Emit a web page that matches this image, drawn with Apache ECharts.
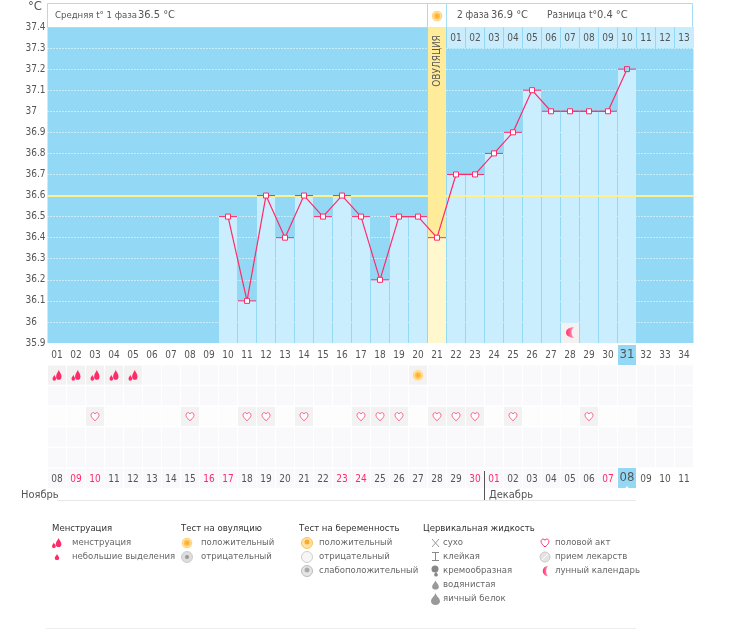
<!DOCTYPE html>
<html>
<head>
<meta charset="utf-8">
<style>
  html, body { margin: 0; padding: 0; background: #fff; }
  #chart { width: 731px; height: 629px; }
</style>
<script src="https://cdn.jsdelivr.net/npm/echarts@6/dist/echarts.min.js"></script>
</head>
<body>
<div id="chart"></div>
<script>
// cycle days, 01..34
const days = ['01','02','03','04','05','06','07','08','09','10','11','12','13','14','15','16','17',
  '18','19','20','21','22','23','24','25','26','27','28','29','30','31','32','33','34'];
// calendar date under each cycle day
const dates = ['08','09','10','11','12','13','14','15','16','17','18','19','20','21','22','23','24',
  '25','26','27','28','29','30','01','02','03','04','05','06','07','08','09','10','11'];
// positions in dates[] printed red (weekends)
const redDates = [1,2,8,9,15,16,22,23,29];
const temps = [null,null,null,null,null,null,null,null,null,36.5,36.1,36.6,36.4,36.6,36.5,36.6,36.5,
  36.2,36.5,36.5,36.4,36.7,36.7,36.8,36.9,37.1,37,37,37,37,37.2,null,null,null];
const coverLine = 36.6;
const ovulationDay = '21';
const todayDay = '31';
const phase2Days = ['22','23','24','25','26','27','28','29','30','31','32','33','34'];
const phase2Labels = ['01','02','03','04','05','06','07','08','09','10','11','12','13'];
const rows = ['r1','r2','r3','r4','r5','dates'];
const dropDays = ['01','02','03','04','05'];
const ovuTestDays = ['20'];
const heartDays = ['03','08','11','12','14','17','18','19','21','22','23','25','29'];
const moonDays = ['28'];

const TXT = '#555';
const PINK = '#ff2a68';
const BLUE = '#93d9f6';
const FONT = '"DejaVu Sans Condensed", "DejaVu Sans", sans-serif';

// drawn in 16x16 boxes
const DROP = 'M10.5 0C11 3 15 5 15 10A4.5 4.5 0 0 1 6 10C6 5 10 3 10.5 0ZM3 7C3.5 9 6 10.5 6 13A3 3 0 0 1 0 13C0 10.5 2.5 9 3 7Z';
const BIGDROP = 'M8 0C9 4 14 7 14 11A6 5 0 0 1 2 11C2 7 7 4 8 0Z';
const HEART = 'M8 15C2 10 1 7.5 1 5C1 2.5 3 1 5 1C6.5 1 7.5 2 8 3.2C8.5 2 9.5 1 11 1C13 1 15 2.5 15 5C15 7.5 14 10 8 15Z';
const MOON = 'M12 1A7 7 0 1 0 12 15A12 12 0 0 1 12 1Z';
echarts.graphic.registerShape('iconDrop', echarts.graphic.extendPath(DROP, {}));
echarts.graphic.registerShape('iconBigDrop', echarts.graphic.extendPath(BIGDROP, {}));
echarts.graphic.registerShape('iconHeart', echarts.graphic.extendPath(HEART, {}));
echarts.graphic.registerShape('iconMoon', echarts.graphic.extendPath(MOON, {}));

function sunColor() {
  return new echarts.graphic.RadialGradient(0.5, 0.5, 0.5, [
    { offset: 0, color: '#ffa51f' },
    { offset: 0.55, color: '#ffc65c' },
    { offset: 0.7, color: '#ffe6b0' },
    { offset: 0.85, color: '#ffd27a' },
    { offset: 1, color: '#ffeecb' }
  ]);
}
function moonColor() {
  return new echarts.graphic.LinearGradient(0, 0, 1, 0, [
    { offset: 0, color: '#ff2a68' },
    { offset: 1, color: '#ffa5c0' }
  ]);
}

const chart = echarts.init(document.getElementById('chart'), null, { renderer: 'canvas' });

// label cells; the highlighted one is a full 18x20 blue cell
function numStyle(h, color) {
  return { width: 18, height: h, lineHeight: h, align: 'center', color: color, fontSize: 10, fontFamily: FONT };
}
const hlStyle = { width: 18, height: 20, lineHeight: 20, align: 'center', color: TXT, fontSize: 13, fontFamily: FONT, backgroundColor: BLUE };

function text(x, y, str, size, color, weight) {
  return {
    type: 'text', x: x, y: y, silent: true,
    style: { text: str, fill: color || TXT, fontSize: size || 10, fontFamily: FONT, fontWeight: weight || 'normal', verticalAlign: 'middle' }
  };
}
function rect(x, y, w, h, fill, stroke) {
  return { type: 'rect', silent: true, shape: { x: x, y: y, width: w, height: h }, style: { fill: fill, stroke: stroke || null, lineWidth: 1 } };
}
// icons are 16 units wide; s is the px size
function icon(shape, x, y, s, fill, stroke) {
  const k = s / 16;
  return {
    type: shape, silent: true, x: x - s / 2, y: y - s / 2, scaleX: k, scaleY: k,
    style: { fill: fill, stroke: stroke || null, lineWidth: 1 / k }
  };
}
function disc(x, y, r, fill, stroke) {
  return { type: 'circle', silent: true, shape: { cx: x, cy: y, r: r }, style: { fill: fill, stroke: stroke || null, lineWidth: 1 } };
}

const headerGraphics = [
  rect(47.5, 3.5, 645, 24, '#fff', '#a5dff6'),
  rect(427.5, 3.5, 19, 24, '#fff', '#a5dff6'),
  disc(437, 16, 5.5, sunColor()),
  text(55, 16, 'Средняя t° 1 фаза', 9.5),
  text(138, 15.5, '36.5 °C', 11),
  text(457, 15.5, '2 фаза', 10),
  text(491, 15.5, '36.9 °C', 11),
  text(547, 15.5, 'Разница t°', 10),
  text(597, 15.5, '0.4 °C', 11),
  text(28, 7, '°C', 13),
  {
    type: 'text', x: 437, y: 61, rotation: Math.PI / 2, silent: true, z: 20,
    style: { text: 'ОВУЛЯЦИЯ', fill: TXT, fontSize: 10, fontFamily: FONT, align: 'center', verticalAlign: 'middle' }
  }
];

const footerGraphics = [
  text(21, 495, 'Ноябрь', 11),
  text(489, 495, 'Декабрь', 11),
  rect(484, 471, 1, 29, '#555'),
  rect(57, 500, 579, 1, '#e8e8e8'),
  rect(46, 628, 590, 1, '#eeeeee'),
  { type: 'polygon', silent: true, z: 20, shape: { points: [[624.5, 489], [629.5, 489], [627, 486]] }, style: { fill: '#fff' } }
];

const L = '#333', G = '#666', LS = 9.5;
const legendGraphics = [
  text(52, 529, 'Менструация', LS, L),
  icon('iconDrop', 57, 543, 10, PINK),
  text(72, 543, 'менструация', LS, G),
  icon('iconBigDrop', 57, 557, 6, PINK),
  text(72, 557, 'небольшие выделения', LS, G),

  text(181, 529, 'Тест на овуляцию', LS, L),
  disc(187, 543, 5.5, sunColor()),
  text(201, 543, 'положительный', LS, G),
  disc(187, 557, 5.5, '#ddd', '#ccc'),
  disc(187, 557, 2, '#999'),
  text(201, 557, 'отрицательный', LS, G),

  text(299, 529, 'Тест на беременность', LS, L),
  disc(307, 543, 5.5, '#ffe2a8', '#fbc160'),
  disc(307, 542, 2.5, '#ffa928'),
  text(319, 543, 'положительный', LS, G),
  disc(307, 557, 5.5, '#f6f6f6', '#cfcfcf'),
  text(319, 557, 'отрицательный', LS, G),
  disc(307, 571, 5.5, '#e6e6e6', '#bbb'),
  disc(307, 570, 2.5, '#aaa'),
  text(319, 571, 'слабоположительный', LS, G),

  text(423, 529, 'Цервикальная жидкость', LS, L),
  { type: 'line', silent: true, shape: { x1: 432, y1: 539, x2: 439, y2: 547 }, style: { stroke: '#999' } },
  { type: 'line', silent: true, shape: { x1: 439, y1: 539, x2: 432, y2: 547 }, style: { stroke: '#999' } },
  text(443, 543, 'сухо', LS, G),
  rect(432, 552, 7, 1, '#888'), rect(435, 552, 1, 8, '#888'), rect(432, 560, 7, 1, '#888'),
  text(443, 557, 'клейкая', LS, G),
  disc(435, 569, 3.5, '#888'),
  icon('iconBigDrop', 436, 574, 5, '#888'),
  text(443, 571, 'кремообразная', LS, G),
  icon('iconBigDrop', 435.5, 585, 9, '#999'),
  text(443, 585, 'водянистая', LS, G),
  icon('iconBigDrop', 435.5, 599, 12, '#999'),
  text(443, 599, 'яичный белок', LS, G),

  icon('iconHeart', 545, 543, 9, '#fff', PINK),
  text(555, 543, 'половой акт', LS, G),
  disc(545, 557, 5, '#e4e4e4', '#ccc'),
  { type: 'line', silent: true, shape: { x1: 542, y1: 560, x2: 548, y2: 554 }, style: { stroke: '#fff' } },
  text(555, 557, 'прием лекарств', LS, G),
  icon('iconMoon', 545, 571, 12, moonColor()),
  text(555, 571, 'лунный календарь', LS, G)
];

const option = {
  animation: false,
  backgroundColor: '#fff',
  grid: [
    { left: 47.5, top: 27, width: 646, height: 316, show: true, backgroundColor: BLUE, borderWidth: 0 },
    { left: 47.5, top: 365, width: 646, height: 124, show: false }
  ],
  xAxis: [
    {
      gridIndex: 0, type: 'category', data: days,
      axisLine: { show: false }, axisTick: { show: false }, splitLine: { show: false },
      axisLabel: {
        interval: 0, margin: 2, hideOverlap: false,
        formatter: v => (v === todayDay ? '{hl|' + v + '}' : '{n|' + v + '}'),
        rich: { n: numStyle(20, TXT), hl: hlStyle }
      }
    },
    {
      gridIndex: 1, type: 'category', data: days, z: 6,
      axisLine: { show: false }, axisTick: { show: false }, splitLine: { show: false },
      axisLabel: {
        interval: 0, inside: true, margin: 1, hideOverlap: false,
        formatter: (v, i) => {
          const d = dates[i];
          if (v === todayDay) return '{hl|' + d + '}';
          return redDates.includes(i) ? '{r|' + d + '}' : '{n|' + d + '}';
        },
        rich: { n: numStyle(17, TXT), r: numStyle(17, PINK), hl: hlStyle }
      }
    }
  ],
  yAxis: [
    {
      gridIndex: 0, type: 'value', min: 35.9, max: 37.4, interval: 0.1,
      axisLine: { show: false }, axisTick: { show: false },
      axisLabel: { align: 'left', margin: 22, color: TXT, fontSize: 10, fontFamily: FONT, padding: [0, 0, 5, 0], showMaxLabel: true, showMinLabel: true },
      splitLine: { show: true, showMaxLine: false, showMinLine: true, lineStyle: { type: [1, 2], color: '#fff', width: 1 } }
    },
    {
      gridIndex: 1, type: 'category', data: rows, inverse: true,
      axisLine: { show: false }, axisTick: { show: false }, axisLabel: { show: false }, splitLine: { show: false }
    }
  ],
  series: [
    // full height ovulation column
    {
      type: 'bar', name: 'ovulation', xAxisIndex: 0, yAxisIndex: 0, barWidth: 18, barGap: '-100%', silent: true, z: 2,
      itemStyle: { color: '#feec9a' },
      data: days.map(d => (d === ovulationDay ? 37.4 : null))
    },
    // temperature columns
    {
      type: 'bar', name: 'columns', xAxisIndex: 0, yAxisIndex: 0, barWidth: 18, barGap: '-100%', silent: true, z: 3,
      data: temps.map((t, i) => (t === null ? null : {
        value: t,
        itemStyle: { color: days[i] === ovulationDay ? '#fff8cf' : '#cbeeff' }
      }))
    },
    // second phase header cells
    {
      type: 'custom', name: 'phase2', xAxisIndex: 0, yAxisIndex: 0, silent: true, z: 3,
      renderItem: (params, api) => {
        const c = api.coord([api.value(0), 37.4]);
        const b = api.coord([api.value(0), 37.3]);
        return {
          type: 'group',
          children: [
            { type: 'rect', shape: { x: c[0] - 9, y: c[1], width: 18, height: b[1] - c[1] }, style: { fill: '#c9edfd' } },
            { type: 'text', style: { x: c[0], y: c[1] + 11, text: phase2Labels[params.dataIndex], fill: TXT, fontSize: 10, fontFamily: FONT, align: 'center', verticalAlign: 'middle' } }
          ]
        };
      },
      encode: { x: 0 },
      data: phase2Days.map(d => [d])
    },
    // cover line
    {
      type: 'line', name: 'cover', xAxisIndex: 0, yAxisIndex: 0, data: [], silent: true, z: 4,
      markLine: {
        silent: true, symbol: 'none', label: { show: false }, animation: false,
        lineStyle: { color: '#fff08c', type: 'solid', width: 2 },
        data: [{ yAxis: coverLine }]
      }
    },
    // moon cell and symbol
    {
      type: 'custom', name: 'moonCell', xAxisIndex: 0, yAxisIndex: 0, silent: true, z: 5,
      renderItem: (params, api) => {
        const c = api.coord([api.value(0), 36]);
        const b = api.coord([api.value(0), 35.9]);
        return { type: 'rect', shape: { x: c[0] - 9, y: c[1] + 1, width: 18, height: b[1] - c[1] - 1 }, style: { fill: '#f4f1f3' } };
      },
      encode: { x: 0 },
      data: moonDays.map(d => [d])
    },
    {
      type: 'scatter', name: 'moon', xAxisIndex: 0, yAxisIndex: 0, symbol: 'path://' + MOON, symbolSize: [8, 11], silent: true, z: 6,
      itemStyle: { color: moonColor(), opacity: 1 },
      data: moonDays.map(d => [d, 35.95])
    },
    // day ticks across each column
    {
      type: 'scatter', name: 'ticks', xAxisIndex: 0, yAxisIndex: 0, symbol: 'rect', symbolSize: [18, 1], silent: true, z: 7,
      itemStyle: { color: PINK, opacity: 1 },
      data: days.map((d, i) => [d, temps[i]]).filter(p => p[1] !== null)
    },
    // temperature line, the latest reading is left unfilled
    {
      type: 'line', name: 'temperature', xAxisIndex: 0, yAxisIndex: 0, z: 8, silent: true,
      symbol: 'rect', symbolSize: 5, showSymbol: true, connectNulls: false,
      lineStyle: { color: PINK, width: 1.2 },
      itemStyle: { color: '#fff', borderColor: PINK, borderWidth: 1, opacity: 1 },
      data: temps.map((t, i) => (days[i] === todayDay ? { value: t, itemStyle: { color: BLUE, borderColor: PINK, borderWidth: 1 } } : t))
    },
    // lower table cells
    {
      type: 'custom', name: 'cells', xAxisIndex: 1, yAxisIndex: 1, silent: true, z: 1,
      renderItem: (params, api) => {
        const p = api.coord([api.value(0), api.value(1)]);
        const s = api.size([1, 1]);
        const fill = ['#f9f8fa', '#f2f2f2', '#fdfdfd'][api.value(2)];
        return { type: 'rect', shape: { x: p[0] - 9, y: p[1] - s[1] / 2 + 0.5, width: 18, height: s[1] - 1.5 }, style: { fill: fill } };
      },
      encode: { x: 0, y: 1 },
      data: rows.flatMap((r, ri) => days.map((d, di) => {
        if (r === 'dates' && di > 30) return null;
        const active = (r === 'r1' && (dropDays.includes(d) || ovuTestDays.includes(d))) || (r === 'r3' && heartDays.includes(d));
        return [di, ri, active ? 1 : (r === 'r3' && di <= 30 ? 2 : 0)];
      })).filter(Boolean)
    },
    {
      type: 'scatter', name: 'menstruation', xAxisIndex: 1, yAxisIndex: 1, symbol: 'path://' + DROP, symbolSize: [9, 11], silent: true, z: 3,
      itemStyle: { color: PINK, opacity: 1 },
      data: dropDays.map(d => [d, 'r1'])
    },
    {
      type: 'scatter', name: 'ovuTest', xAxisIndex: 1, yAxisIndex: 1, symbol: 'circle', symbolSize: 11, silent: true, z: 3,
      itemStyle: { color: sunColor(), opacity: 1 },
      data: ovuTestDays.map(d => [d, 'r1'])
    },
    {
      type: 'scatter', name: 'intercourse', xAxisIndex: 1, yAxisIndex: 1, symbol: 'path://' + HEART, symbolSize: [8, 8], silent: true, z: 3,
      itemStyle: { color: '#fff', borderColor: '#ff5c90', borderWidth: 1, opacity: 1 },
      data: heartDays.map(d => [d, 'r3'])
    }
  ],
  graphic: { elements: [].concat(headerGraphics, footerGraphics, legendGraphics) }
};

chart.setOption(option);
</script>
</body>
</html>
